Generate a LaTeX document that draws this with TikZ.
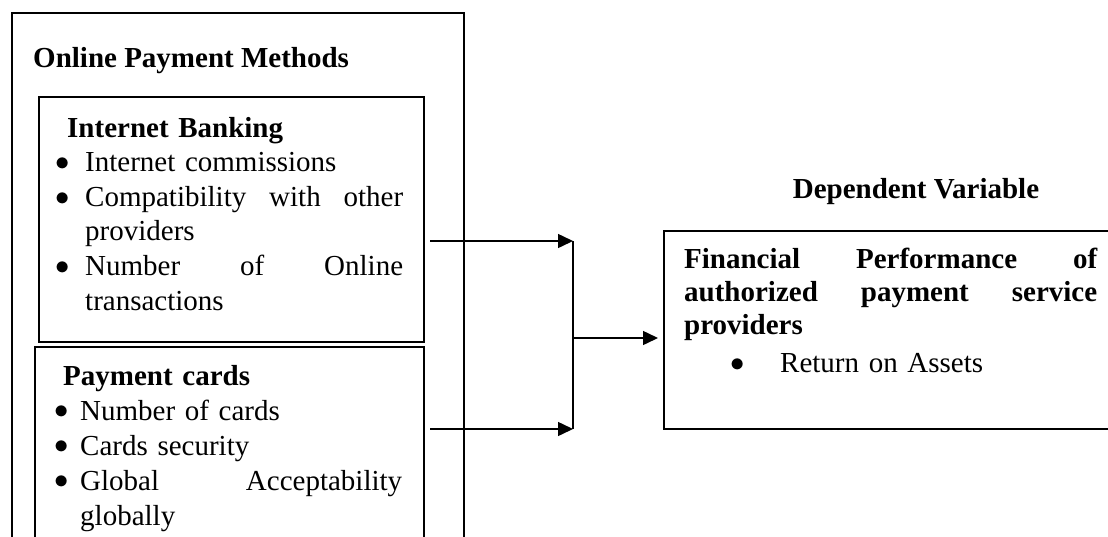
\documentclass[tikz,border=0pt]{standalone}
\usepackage{graphicx}
\usepackage{fontspec}
\setmainfont{Liberation Serif}
\usetikzlibrary{arrows.meta}
\setlength{\parindent}{0pt}
\newcommand\bul[1]{\makebox[#1][l]{\hspace*{-2.5pt}\raisebox{1.2pt}{\scalebox{1.15}{$\bullet$}}}}
\begin{document}
\begin{tikzpicture}[x=1pt,y=-1pt,
  box/.style={draw, line width=1.5pt, inner sep=0pt, outer sep=0pt, anchor=north west},
  txt/.style={anchor=base west, inner sep=0pt, align=left},
  arr/.style={line width=1.5pt, -{Triangle[length=15pt,width=14pt]}},
  ln/.style={line width=1.5pt}]
\useasboundingbox (0,0) rectangle (1108,536);
\clip (0,0) rectangle (1108,536);
% boxes
\node[box, line width=2pt, minimum width=452pt, minimum height=560pt] (outer) at (12,13) {};
\node[box, minimum width=385pt, minimum height=245pt] (ib) at (39,97) {};
\node[box, minimum width=389pt, minimum height=230pt] (pc) at (35,347) {};
\node[box, minimum width=470pt, minimum height=198pt] (dv) at (664,231) {};
% texts
\node[txt, font=\fontsize{29}{34}\selectfont\bfseries] (opm) at (33,67) {Online Payment Methods};
\node[txt, text width=360pt, font=\fontsize{29}{34.6}\selectfont] (ibt) at (58,137) {%
\hspace*{9pt}\textbf{Internet Banking}\\
\bul{27pt}Internet commissions\\
\bul{27pt}\makebox[318pt][l]{Compatibility\hfill with\hfill other}\\
\hspace*{27pt}providers\\
\bul{27pt}\makebox[318pt][l]{Number\hfill of\hfill Online}\\
\hspace*{27pt}transactions};
\node[txt, text width=360pt, font=\fontsize{29}{35}\selectfont] (pct) at (57,385) {%
\hspace*{6pt}\textbf{Payment cards}\\
\bul{23pt}Number of cards\\
\bul{23pt}Cards security\\
\bul{23pt}\makebox[322pt][l]{Global\hfill Acceptability}\\
\hspace*{23pt}globally};
\node[anchor=base, inner sep=0pt, font=\fontsize{29}{34}\selectfont\bfseries] (dvh) at (916,198) {Dependent Variable};
\node[txt, text width=413pt, font=\fontsize{29}{33.3}\selectfont] (dvt) at (684,268.3) {%
\makebox[413pt][l]{\bfseries Financial\hfill Performance\hfill of}\\
\makebox[413pt][l]{\bfseries authorized\hfill payment\hfill service}\\
\textbf{providers}\\[4.4pt]
\hspace*{49pt}\bul{47pt}Return on Assets};
% connectors
\coordinate (a1) at (430,241);
\coordinate (j1) at (573,241);
\coordinate (a2) at (430,429);
\coordinate (j2) at (573,429);
\coordinate (jm) at (573,338);
\draw[arr] (a1) -- (j1);
\draw[arr] (a2) -- (j2);
\draw[ln] (j1) -- (j2);
\draw[arr, shorten >=6pt] (jm) -- (jm -| dv.west);
\end{tikzpicture}
\end{document}
